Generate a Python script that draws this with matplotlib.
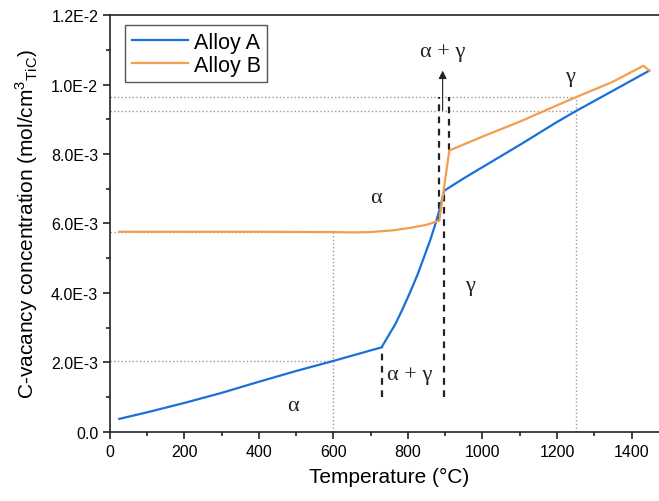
import matplotlib
matplotlib.use("Agg")
import matplotlib.pyplot as plt
from matplotlib.ticker import MultipleLocator

plt.rcParams["font.family"] = ["Liberation Sans", "DejaVu Sans"]

# ---------------------------------------------------------------------------
# Data
# ---------------------------------------------------------------------------

T_A = [25, 100, 200, 300, 400, 500, 600, 729, 745, 765, 785, 805, 825, 841,
       860, 872, 885, 897,
       950, 1000, 1100, 1200, 1250, 1350, 1448]
C_A = [0.00037, 0.00056, 0.00083, 0.00112, 0.00144, 0.00175, 0.00204, 0.00243,
       0.00272, 0.00308, 0.00352, 0.00400, 0.00451, 0.00497,
       0.00553, 0.00593, 0.00640, 0.00694,
       0.00730, 0.00762, 0.00826, 0.00892, 0.00923, 0.00982, 0.01040]

T_B = [25, 200, 400, 600, 650, 698, 760, 805, 850, 884, 911,
       1000, 1100, 1200, 1250, 1350, 1432, 1448]
C_B = [0.00576, 0.00576, 0.00576, 0.00575, 0.00574, 0.00575, 0.00580, 0.00587,
       0.00596, 0.00608, 0.00810,
       0.00850, 0.00893, 0.00940, 0.00963, 0.01008, 0.01054, 0.01040]

# dotted guide lines: temperature, Alloy A level, Alloy B level
GUIDE_T = [600, 1250]
GUIDE_A = [0.00204, 0.00923]
GUIDE_B = [0.00576, 0.00963]

# dashed phase boundaries: temperature, start, end
BOUND_T = [729, 897, 884, 911]
BOUND_Y0 = [0.0010, 0.0010, 0.00608, 0.00810]
BOUND_Y1 = [0.00243, 0.00694, 0.00964, 0.00964]

# phase labels
PHASE_TXT = ["\u03b1", "\u03b1 + \u03b3", "\u03b3", "\u03b1", "\u03b3", "\u03b1 + \u03b3"]
PHASE_T = [492, 805, 966, 713, 1235, 893]
PHASE_C = [0.00075, 0.00166, 0.0042, 0.00676, 0.01022, 0.01094]

ARROW_T = 893
ARROW_C = [0.00925, 0.0104]

Y_TICKS = [0.0, 0.002, 0.004, 0.006, 0.008, 0.010, 0.012]
Y_LABELS = ["0.0", "2.0E-3", "4.0E-3", "6.0E-3", "8.0E-3", "1.0E-2", "1.2E-2"]
X_TICKS = [0, 200, 400, 600, 800, 1000, 1200, 1400]

BLUE = "#1B6FDA"
ORANGE = "#F49D4C"
GREY = "#9a9a9a"
INK = "#222222"

# ---------------------------------------------------------------------------
# Plot
# ---------------------------------------------------------------------------

fig = plt.figure(figsize=(6.59, 5.02), dpi=100)
ax = fig.add_axes([0.1669, 0.138, 0.8479, 0.830])

# dotted guides
for t, ca, cb in zip(GUIDE_T, GUIDE_A, GUIDE_B):
    ax.plot([0, t], [ca, ca], ls=":", color=GREY, lw=1, zorder=1)
    ax.plot([0, t], [cb, cb], ls=":", color=GREY, lw=1, zorder=1)
    ax.plot([t, t], [0, cb], ls=":", color=GREY, lw=1, zorder=1)

ax.plot(T_A, C_A, color=BLUE, lw=1.6, label="Alloy A", zorder=3)
ax.plot(T_B, C_B, color=ORANGE, lw=1.6, label="Alloy B", zorder=3)

for t, y0, y1 in zip(BOUND_T, BOUND_Y0, BOUND_Y1):
    ax.plot([t, t], [y0, y1], ls=(0, (3, 2.5)), color=INK, lw=1.6, zorder=2)

for s, t, c in zip(PHASE_TXT, PHASE_T, PHASE_C):
    ax.text(t, c, s, ha="center", va="center", fontsize=16,
            family=["Liberation Serif", "DejaVu Serif"], color=INK)

ax.annotate("", xy=(ARROW_T, ARROW_C[1]), xytext=(ARROW_T, ARROW_C[0]),
            arrowprops=dict(arrowstyle="-|>", color=INK, lw=0.8,
                            mutation_scale=12, shrinkA=0, shrinkB=0))

ax.set_xlim(0, 1500)
ax.set_ylim(0, 0.012)
ax.set_xticks(X_TICKS)
ax.set_yticks(Y_TICKS)
ax.set_yticklabels(Y_LABELS)
ax.xaxis.set_minor_locator(MultipleLocator(100))
ax.yaxis.set_minor_locator(MultipleLocator(0.001))
ax.tick_params(which="both", direction="out", labelsize=11.5, color=INK,
               width=1.2, top=False, right=False)
ax.tick_params(which="major", length=5)
ax.tick_params(which="minor", length=3)
for sp in ax.spines.values():
    sp.set_linewidth(1.2)
    sp.set_color(INK)

ax.set_xlabel("Temperature (\u00b0C)", fontsize=15, labelpad=6)
ax.set_ylabel(r"C-vacancy concentration (mol/cm$^\mathregular{3}$$_\mathregular{TiC}$)",
              fontsize=15, labelpad=8)

leg = ax.legend(loc="upper left", bbox_to_anchor=(0.027, 0.976), borderaxespad=0,
                fontsize=15.5, fancybox=False, edgecolor="#555555", framealpha=1,
                handlelength=2.6, borderpad=0.3, labelspacing=0.1,
                handletextpad=0.3)
leg.get_frame().set_linewidth(1.0)

fig.savefig("out.png", dpi=100)
